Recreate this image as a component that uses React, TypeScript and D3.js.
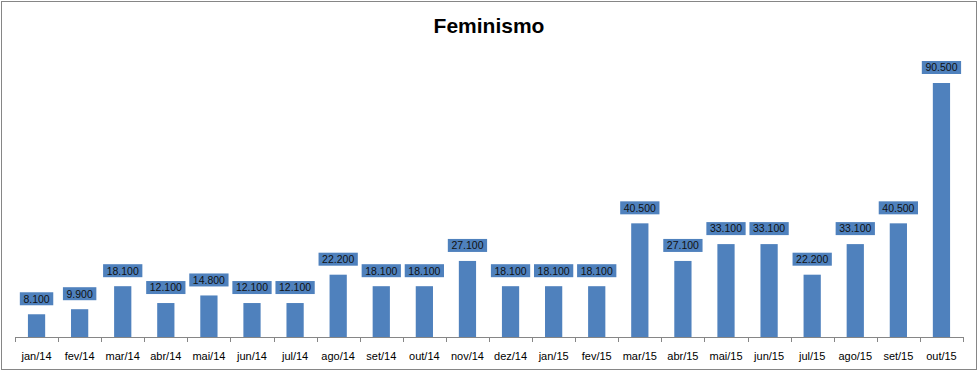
import React, { useEffect, useRef } from "react";
import * as d3 from "d3";

const months = [
  "jan/14", "fev/14", "mar/14", "abr/14", "mai/14", "jun/14", "jul/14", "ago/14",
  "set/14", "out/14", "nov/14", "dez/14", "jan/15", "fev/15", "mar/15", "abr/15",
  "mai/15", "jun/15", "jul/15", "ago/15", "set/15", "out/15",
];
const searches = [
  8100, 9900, 18100, 12100, 14800, 12100, 12100, 22200, 18100, 18100, 27100,
  18100, 18100, 18100, 40500, 27100, 33100, 33100, 22200, 33100, 40500, 90500,
];

const W = 978;
const H = 371;
const FONT = "'Liberation Sans', Arial, sans-serif";

// formato pt-BR: 8.100
const fmt = (v: number) => d3.format(",")(v).replace(/,/g, ".");

const App = () => {
  const ref = useRef<SVGSVGElement>(null);

  useEffect(() => {
    const svg = d3.select(ref.current);
    svg.selectAll("*").remove();

    const left = 15;
    const right = 963;
    const base = 337;

    const x = d3.scaleBand().domain(months).range([left, right]).paddingInner(0.6).paddingOuter(0.3);
    const y = d3.scaleLinear().domain([0, 90500]).range([base, 83]);

    // border
    svg.append("rect")
      .attr("x", 1.5).attr("y", 1.5)
      .attr("width", W - 3).attr("height", H - 3)
      .attr("fill", "white").attr("stroke", "#868686");

    svg.append("text")
      .attr("x", W / 2).attr("y", 33)
      .attr("text-anchor", "middle")
      .style("font-family", FONT).style("font-weight", "bold").style("font-size", "21px")
      .attr("fill", "#000")
      .text("Feminismo");

    const data = months.map((m, i) => ({ m, v: searches[i] }));

    svg.append("g").selectAll("rect").data(data).enter().append("rect")
      .attr("x", (d) => x(d.m)!)
      .attr("y", (d) => y(d.v))
      .attr("width", x.bandwidth())
      .attr("height", (d) => base - y(d.v))
      .attr("fill", "#4F81BD");

    // axis
    const step = (right - left) / months.length;
    const ax = svg.append("g").attr("stroke", "#868686").attr("shape-rendering", "crispEdges");
    ax.append("line").attr("x1", left).attr("x2", right).attr("y1", base + 0.5).attr("y2", base + 0.5);
    d3.range(months.length + 1).forEach((i) => {
      const tx = Math.round(left + i * step) + 0.5;
      ax.append("line").attr("x1", tx).attr("x2", tx).attr("y1", base).attr("y2", base + 5);
    });

    svg.append("g").selectAll("text").data(months).enter().append("text")
      .attr("x", (d) => x(d)! + x.bandwidth() / 2)
      .attr("y", 360)
      .attr("text-anchor", "middle")
      .style("font-family", FONT).style("font-size", "11px")
      .attr("fill", "#000")
      .text((d) => d);

    // data labels
    const lbl = svg.append("g").selectAll("g").data(data).enter().append("g")
      .attr("transform", (d) => `translate(${x(d.m)! + x.bandwidth() / 2},${y(d.v) - 15.5})`);
    lbl.append("text")
      .attr("text-anchor", "middle")
      .attr("y", 3.8)
      .style("font-family", FONT).style("font-size", "10.5px")
      .attr("fill", "#111")
      .text((d) => fmt(d.v))
      .each(function () {
        const bb = (this as SVGTextElement).getBBox();
        d3.select((this as SVGTextElement).parentNode as SVGGElement)
          .insert("rect", "text")
          .attr("x", -bb.width / 2 - 3.5).attr("y", -6.5)
          .attr("width", bb.width + 7).attr("height", 13)
          .attr("fill", "#4F81BD");
      });
  }, []);

  return (
    <svg ref={ref} width={W} height={H} style={{ position: "absolute", left: 0, top: 0 }} />
  );
};

export default App;
